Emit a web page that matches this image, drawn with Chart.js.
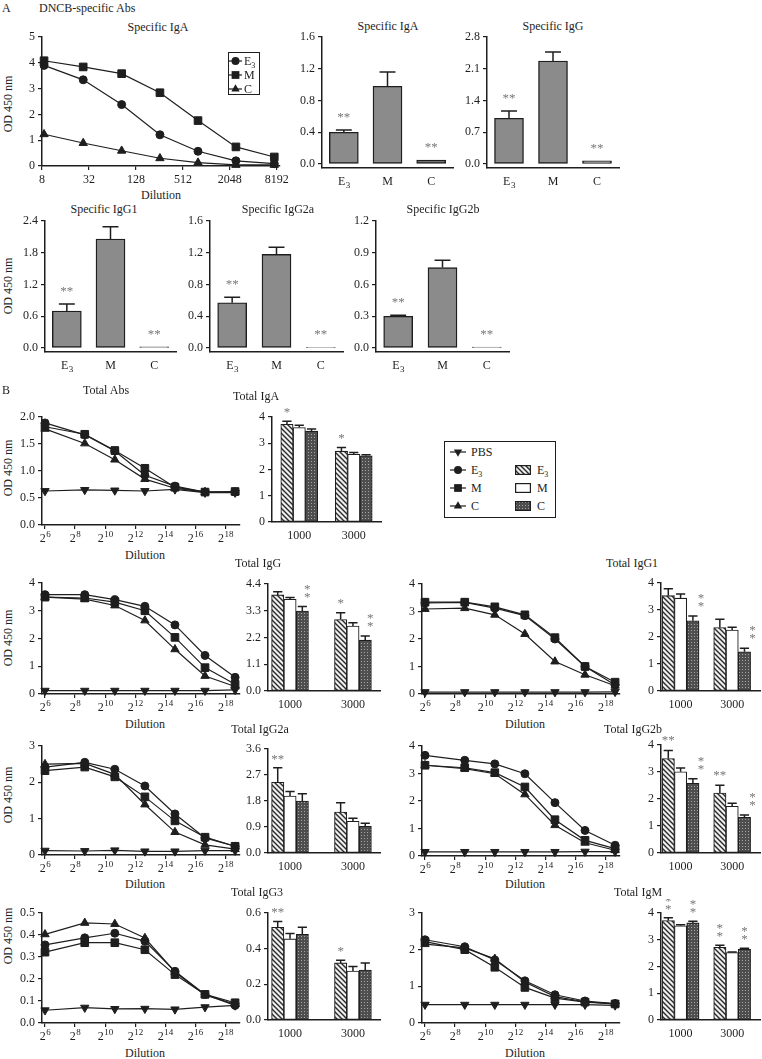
<!DOCTYPE html>
<html><head><meta charset="utf-8">
<script src="https://cdn.jsdelivr.net/npm/chart.js@4.4.1/dist/chart.umd.min.js"></script>
<style>
html,body{margin:0;padding:0;background:#fff;}
#fig{position:relative;width:762px;height:1059px;overflow:hidden;background:#fff;font-family:'Liberation Serif','Times New Roman',Times,serif;color:#1e1e1e;}
#fig canvas{position:absolute;}
.t{position:absolute;font-size:12px;line-height:14px;white-space:nowrap;transform:translate(-50%,-50%);}
.tl{position:absolute;font-size:12px;line-height:14px;white-space:nowrap;transform:translate(0,-50%);}
.yl{position:absolute;font-size:12px;line-height:14px;white-space:nowrap;transform:translate(-50%,-50%) rotate(-90deg);}
.leg{position:absolute;border:1px solid #1e1e1e;box-sizing:border-box;}
sub{font-size:8px;vertical-align:-3px;line-height:0;}
</style></head><body><div id="fig"></div>
<script>
// ================= DATA =================
// ---- A: DNCB-specific antibodies ----
const specDilutions = [8.5, 27, 84, 260, 800, 2450, 7600];
const specDilutionTicks = [8, 32, 128, 512, 2048, 8192];
const specDilutionLabels = ['8', '32', '128', '512', '2048', '8192'];
const specIgA_E3 = [3.90, 3.34, 2.38, 1.21, 0.57, 0.20, 0.09];
const specIgA_M  = [4.08, 3.84, 3.58, 2.84, 1.76, 0.74, 0.35];
const specIgA_C  = [1.23, 0.89, 0.59, 0.30, 0.13, 0.04, 0.04];
const specLineTicks = ['0', '1', '2', '3', '4', '5'];

const groupsA = ['E_3', 'M', 'C'];
const sigA = ['**', '', '**'];
const specIgA_bar = [0.40, 0.98, 0.05];   const specIgA_err = [0.03, 0.18, 0];
const specIgG_bar = [1.01, 2.27, 0.07];   const specIgG_err = [0.16, 0.20, 0];
const specIgG1_bar = [0.70, 2.06, 0.02];  const specIgG1_err = [0.13, 0.23, 0];
const specIgG2a_bar = [0.57, 1.18, 0.01]; const specIgG2a_err = [0.07, 0.09, 0];
const specIgG2b_bar = [0.30, 0.76, 0.01]; const specIgG2b_err = [0.01, 0.07, 0];
const ticksIgA_A = ['0.0', '0.4', '0.8', '1.2', '1.6'];
const ticksIgG_A = ['0.0', '0.7', '1.4', '2.1', '2.8'];
const ticksIgG1_A = ['0.0', '0.6', '1.2', '1.8', '2.4'];
const ticksIgG2a_A = ['0.0', '0.4', '0.8', '1.2', '1.6'];
const ticksIgG2b_A = ['0.0', '0.3', '0.6', '0.9', '1.2'];

// ---- B: total antibodies ----
const totDilutions = [64, 400, 1600, 6400, 25600, 102400, 409600];
const totDilutionTicks = [64, 256, 1024, 4096, 16384, 65536, 262144];
const totDilutionLabels = ['2^6', '2^8', '2^10', '2^12', '2^14', '2^16', '2^18'];
const groupsB = ['1000', '3000'];
const groupX = [1, 2];

const totAbs_PBS = [0.63, 0.65, 0.64, 0.63, 0.66, 0.60, 0.60];
const totAbs_E3  = [1.89, 1.67, 1.37, 0.92, 0.72, 0.61, 0.61];
const totAbs_M   = [1.82, 1.68, 1.38, 1.05, 0.70, 0.61, 0.62];
const totAbs_C   = [1.78, 1.51, 1.21, 0.85, 0.68, 0.61, 0.61];
const ticksTotAbs = ['0.0', '0.5', '1.0', '1.5', '2.0'];

const totIgA_E3 = [3.72, 2.70]; const totIgA_E3err = [0.12, 0.14]; const totIgA_E3sig = ['*', '*'];
const totIgA_M  = [3.60, 2.58]; const totIgA_Merr  = [0.09, 0.07];
const totIgA_C  = [3.46, 2.52]; const totIgA_Cerr  = [0.08, 0.04];
const ticksTotIgA = ['0', '1', '2', '3', '4'];

const totIgG_PBS = [0.12, 0.12, 0.12, 0.12, 0.12, 0.12, 0.15];
const totIgG_E3l = [3.58, 3.58, 3.40, 3.16, 2.49, 1.39, 0.60];
const totIgG_Ml  = [3.49, 3.46, 3.31, 3.00, 2.04, 0.95, 0.35];
const totIgG_Cl  = [3.49, 3.42, 3.19, 2.65, 1.61, 0.65, 0.27];
const ticksIgGLine = ['0', '1', '2', '3', '4'];
const totIgG_E3 = [3.95, 2.94]; const totIgG_E3err = [0.13, 0.28]; const totIgG_E3sig = ['', '*'];
const totIgG_M  = [3.77, 2.67]; const totIgG_Merr  = [0.08, 0.14];
const totIgG_C  = [3.29, 2.09]; const totIgG_Cerr  = [0.18, 0.17]; const totIgG_Csig = [':', ':'];
const ticksIgGBar = ['0.0', '1.1', '2.2', '3.3', '4.4'];

const totIgG1_PBS = [0.07, 0.07, 0.07, 0.07, 0.07, 0.07, 0.08];
const totIgG1_E3l = [3.31, 3.33, 3.12, 2.85, 2.00, 1.00, 0.33];
const totIgG1_Ml  = [3.34, 3.34, 3.17, 2.88, 2.05, 1.00, 0.43];
const totIgG1_Cl  = [3.09, 3.12, 2.88, 2.18, 1.18, 0.70, 0.30];
const ticksIgG1Line = ['0', '1', '2', '3', '4'];
const totIgG1_E3 = [3.53, 2.35]; const totIgG1_E3err = [0.26, 0.31];
const totIgG1_M  = [3.44, 2.26]; const totIgG1_Merr  = [0.15, 0.10];
const totIgG1_C  = [2.60, 1.45]; const totIgG1_Cerr  = [0.18, 0.13]; const totIgG1_Csig = [':', ':'];
const ticksIgG1Bar = ['0', '1', '2', '3', '4'];

const totIgG2a_PBS = [0.12, 0.11, 0.13, 0.10, 0.10, 0.12, 0.12];
const totIgG2a_E3l = [2.42, 2.55, 2.36, 1.90, 1.13, 0.47, 0.24];
const totIgG2a_Ml  = [2.32, 2.42, 2.15, 1.60, 0.94, 0.49, 0.24];
const totIgG2a_Cl  = [2.50, 2.52, 2.22, 1.39, 0.63, 0.28, 0.16];
const ticksIgG2aLine = ['0', '1', '2', '3'];
const totIgG2a_E3 = [2.45, 1.42]; const totIgG2a_E3err = [0.50, 0.32]; const totIgG2a_E3sig = ['**', ''];
const totIgG2a_M  = [1.97, 1.10]; const totIgG2a_Merr  = [0.16, 0.10];
const totIgG2a_C  = [1.80, 0.92]; const totIgG2a_Cerr  = [0.25, 0.11];
const ticksIgG2aBar = ['0.0', '0.9', '1.8', '2.7', '3.6'];

const totIgG2b_PBS = [0.15, 0.15, 0.15, 0.15, 0.15, 0.16, 0.16];
const totIgG2b_E3l = [3.66, 3.48, 3.35, 2.99, 1.94, 0.93, 0.39];
const totIgG2b_Ml  = [3.30, 3.21, 3.03, 2.51, 1.32, 0.57, 0.27];
const totIgG2b_Cl  = [3.30, 3.18, 2.99, 2.24, 1.12, 0.48, 0.21];
const ticksIgG2bLine = ['0', '1', '2', '3', '4'];
const totIgG2b_E3 = [3.50, 2.22]; const totIgG2b_E3err = [0.30, 0.29]; const totIgG2b_E3sig = ['**', '**'];
const totIgG2b_M  = [3.01, 1.73]; const totIgG2b_Merr  = [0.14, 0.11];
const totIgG2b_C  = [2.58, 1.32]; const totIgG2b_Cerr  = [0.17, 0.09]; const totIgG2b_Csig = [':', ':'];
const ticksIgG2bBar = ['0', '1', '2', '3', '4'];

const totIgG3_PBS = [0.058, 0.070, 0.064, 0.065, 0.062, 0.072, 0.080];
const totIgG3_E3l = [0.355, 0.387, 0.408, 0.372, 0.235, 0.130, 0.080];
const totIgG3_Ml  = [0.322, 0.365, 0.365, 0.333, 0.220, 0.130, 0.092];
const totIgG3_Cl  = [0.403, 0.455, 0.450, 0.386, 0.232, 0.128, 0.085];
const ticksIgG3Line = ['0.0', '0.1', '0.2', '0.3', '0.4', '0.5'];
const totIgG3_E3 = [0.52, 0.32];  const totIgG3_E3err = [0.033, 0.015]; const totIgG3_E3sig = ['**', '*'];
const totIgG3_M  = [0.455, 0.275]; const totIgG3_Merr = [0.030, 0.025];
const totIgG3_C  = [0.48, 0.28];  const totIgG3_Cerr  = [0.040, 0.040];
const ticksIgG3Bar = ['0.0', '0.2', '0.4', '0.6'];

const totIgM_PBS = [0.50, 0.50, 0.50, 0.50, 0.50, 0.50, 0.48];
const totIgM_E3l = [2.27, 2.08, 1.72, 1.15, 0.77, 0.60, 0.53];
const totIgM_Ml  = [2.22, 2.00, 1.52, 0.97, 0.68, 0.57, 0.52];
const totIgM_Cl  = [2.15, 2.05, 1.75, 1.12, 0.72, 0.58, 0.52];
const ticksIgMLine = ['0', '1', '2', '3'];
const totIgM_E3 = [3.72, 2.72]; const totIgM_E3err = [0.10, 0.07]; const totIgM_E3sig = [':', ':'];
const totIgM_M  = [3.52, 2.52]; const totIgM_Merr  = [0.04, 0.02];
const totIgM_C  = [3.63, 2.65]; const totIgM_Cerr  = [0.06, 0.03]; const totIgM_Csig = [':', ':'];
const ticksIgMBar = ['0', '1', '2', '3', '4'];

// ================= RENDERING =================
const FONT = "'Liberation Serif','Times New Roman',Times,serif";
const INK = '#1e1e1e';
Chart.defaults.font.family = FONT;
Chart.defaults.font.size = 12;
Chart.defaults.color = INK;
const fig = document.getElementById('fig');
const PAD = {l: 46, r: 16, t: 14, b: 32};

function addText(cls, html, x, y) {
  const d = document.createElement('div');
  d.className = cls; d.style.left = x + 'px'; d.style.top = y + 'px'; d.innerHTML = html;
  fig.appendChild(d); return d;
}
function mount(p) {
  const c = document.createElement('canvas');
  const w = p.r - p.l + PAD.l + PAD.r, h = p.b - p.t + PAD.t + PAD.b;
  c.width = w; c.height = h;
  c.style.left = (p.l - PAD.l) + 'px'; c.style.top = (p.t - PAD.t) + 'px';
  c.style.width = w + 'px'; c.style.height = h + 'px';
  fig.appendChild(c); return c.getContext('2d');
}
function drawRich(ctx, str, cx, base, size) {
  const m = str.match(/^(.*?)([\^_])(.+)$/);
  ctx.textBaseline = 'alphabetic';
  if (!m) { ctx.font = size + 'px ' + FONT; ctx.textAlign = 'center'; ctx.fillText(str, cx, base); return; }
  const small = Math.round(size * 0.72);
  ctx.font = size + 'px ' + FONT; const w1 = ctx.measureText(m[1]).width;
  ctx.font = small + 'px ' + FONT; const w2 = ctx.measureText(m[3]).width;
  const x = cx - (w1 + w2) / 2;
  ctx.textAlign = 'left';
  ctx.font = size + 'px ' + FONT; ctx.fillText(m[1], x, base);
  ctx.font = small + 'px ' + FONT;
  ctx.fillText(m[3], x + w1 + 0.5, m[2] === '^' ? base - size * 0.42 : base + size * 0.28);
}
const xLabelPlugin = {
  id: 'xlab',
  afterDraw(chart, args, o) {
    if (!o || !o.labels) return;
    const s = chart.scales.x, ctx = chart.ctx;
    ctx.save(); ctx.fillStyle = INK;
    s.ticks.forEach((t, i) => drawRich(ctx, o.labels[i], s.getPixelForTick(i), s.top + o.dy, 12));
    ctx.restore();
  }
};
const errPlugin = {
  id: 'errs',
  afterDatasetsDraw(chart, args, o) {
    if (chart.config.type !== 'bar') return;
    const ctx = chart.ctx, ys = chart.scales.y;
    chart.data.datasets.forEach((ds, i) => {
      const meta = chart.getDatasetMeta(i);
      meta.data.forEach((el, j) => {
        const v = meta.controller.getParsed(j).y;
        const e = ds.errors ? ds.errors[j] : 0;
        const yTop = ys.getPixelForValue(v + e);
        if (e > 0) {
          const w = el.width * (o.cap || 0.6);
          ctx.save(); ctx.strokeStyle = INK; ctx.lineWidth = 1.5; ctx.beginPath();
          ctx.moveTo(el.x, el.y); ctx.lineTo(el.x, yTop);
          ctx.moveTo(el.x - w / 2, yTop); ctx.lineTo(el.x + w / 2, yTop);
          ctx.stroke(); ctx.restore();
        }
        const s = ds.sig ? ds.sig[j] : '';
        if (s) {
          ctx.save(); ctx.fillStyle = '#777'; ctx.font = '13px ' + FONT;
          ctx.textAlign = 'center'; ctx.textBaseline = 'alphabetic';
          if (s === ':') {
            const x = el.x + (o.shift || 0);
            ctx.fillText('*', x, yTop - o.gap); ctx.fillText('*', x, yTop - o.gap - 8);
          } else ctx.fillText(s, el.x, yTop - o.gap);
          ctx.restore();
        }
      });
    });
  }
};
Chart.register(xLabelPlugin, errPlugin);

const gridOpts = () => ({display: true, drawOnChartArea: false, drawTicks: true, tickLength: 4, color: INK, lineWidth: 1.2});
const borderOpts = () => ({display: true, color: INK, width: 1.5});
function yScale(tickStr, min, max) {
  const vals = tickStr.map(parseFloat);
  return {
    type: 'linear', min: min, max: max,
    afterBuildTicks: s => { s.ticks = vals.map(v => ({value: v})); },
    afterFit: s => { s.width = PAD.l; },
    ticks: {callback: (v, i) => tickStr[i], padding: 3, autoSkip: false, color: INK, font: {family: FONT, size: 12}},
    grid: gridOpts(), border: borderOpts()
  };
}
const baseOpts = () => ({
  responsive: false, animation: false, devicePixelRatio: 1,
  layout: {padding: {top: PAD.t, right: PAD.r, left: 0, bottom: 0}},
  events: []
});

const STY = {
  E3:  {style: 'circle', r: 4, rot: 0},
  M:   {style: 'rect', r: 5.4, rot: 0},
  C:   {style: 'triangle', r: 4.8, rot: 0},
  PBS: {style: 'triangle', r: 4.8, rot: 180}
};
function lineChart(p) {
  const ctx = mount(p.box);
  const datasets = p.series.map(s => ({
    data: s.data.map((y, i) => ({x: p.x[i], y: y})),
    borderColor: INK, backgroundColor: INK, borderWidth: 1.2,
    pointStyle: STY[s.key].style, pointRotation: STY[s.key].rot, pointRadius: STY[s.key].r,
    pointBackgroundColor: INK, pointBorderColor: INK, pointBorderWidth: 1, clip: false, tension: 0
  }));
  const opts = baseOpts();
  opts.plugins = {legend: {display: false}, tooltip: {enabled: false}, xlab: {labels: p.xLabels, dy: 17}};
  opts.scales = {
    x: {type: 'logarithmic', min: p.xmin, max: p.xmax, offset: false,
        afterBuildTicks: s => { s.ticks = p.xTicks.map(v => ({value: v})); },
        afterFit: s => { s.height = PAD.b; },
        ticks: {callback: () => '', autoSkip: false}, grid: gridOpts(), border: borderOpts()},
    y: yScale(p.yTicks, p.ymin, p.ymax)
  };
  new Chart(ctx, {type: 'line', data: {datasets: datasets}, options: opts});
}
function barA(p) {
  const ctx = mount(p.box);
  const opts = baseOpts();
  opts.plugins = {legend: {display: false}, tooltip: {enabled: false}, xlab: {labels: groupsA, dy: 17}, errs: {cap: 0.55, gap: 9}};
  opts.scales = {
    x: {type: 'category', offset: true, afterFit: s => { s.height = PAD.b; },
        ticks: {callback: () => ''}, grid: {display: false}, border: borderOpts()},
    y: yScale(p.yTicks, p.ymin, p.ymax)
  };
  new Chart(ctx, {type: 'bar', data: {labels: groupsA, datasets: [{
    data: p.values, errors: p.errors, sig: sigA, backgroundColor: '#8b8b8b',
    borderColor: INK, borderWidth: 1.4, borderSkipped: false, barThickness: 29
  }]}, options: opts});
}
function patHatch(ctx) {
  const c = document.createElement('canvas'); c.width = c.height = 5;
  const x = c.getContext('2d'); x.fillStyle = '#efefef'; x.fillRect(0, 0, 5, 5);
  x.strokeStyle = '#2a2a2a'; x.lineWidth = 1.4; x.beginPath();
  x.moveTo(-1, -1); x.lineTo(6, 6); x.moveTo(-1, 4); x.lineTo(1, 6); x.moveTo(4, -1); x.lineTo(6, 1); x.stroke();
  return ctx.createPattern(c, 'repeat');
}
function patDots(ctx) {
  const c = document.createElement('canvas'); c.width = c.height = 3;
  const x = c.getContext('2d'); x.fillStyle = '#4e4e4e'; x.fillRect(0, 0, 3, 3);
  x.fillStyle = '#a6a6a6'; x.fillRect(1, 1, 1, 1);
  return ctx.createPattern(c, 'repeat');
}
function barB(p) {
  const ctx = mount(p.box);
  const fills = [patHatch(ctx), '#ffffff', patDots(ctx)];
  const sets = [[p.E3, p.E3err, p.E3sig], [p.M, p.Merr, null], [p.C, p.Cerr, p.Csig]].map((g, k) => ({
    data: g[0].map((y, i) => ({x: groupX[i], y: y})), errors: g[1], sig: g[2] || ['', ''],
    backgroundColor: fills[k], borderColor: INK, borderWidth: 1.1, borderSkipped: false, barThickness: 12.3
  }));
  const opts = baseOpts();
  opts.plugins = {legend: {display: false}, tooltip: {enabled: false}, xlab: {labels: groupsB, dy: 17},
                  errs: {cap: 0.75, gap: p.gap, shift: p.shift}};
  opts.scales = {
    x: {type: 'linear', min: p.xmin, max: p.xmax, offset: false,
        afterBuildTicks: s => { s.ticks = groupX.map(v => ({value: v})); },
        afterFit: s => { s.height = PAD.b; },
        ticks: {callback: () => ''}, grid: {display: false, offset: false}, border: borderOpts()},
    y: yScale(p.yTicks, p.ymin, p.ymax)
  };
  new Chart(ctx, {type: 'bar', data: {datasets: sets}, options: opts});
}
function drawMarker(x, style, cx, cy, r, rot) {
  x.beginPath();
  if (style === 'circle') x.arc(cx, cy, r, 0, Math.PI * 2);
  else if (style === 'rect') { const h = r * 0.72; x.rect(cx - h, cy - h, 2 * h, 2 * h); }
  else { const s = rot ? -1 : 1; x.moveTo(cx, cy - s * r); x.lineTo(cx + r * 0.87, cy + s * r * 0.5); x.lineTo(cx - r * 0.87, cy + s * r * 0.5); x.closePath(); }
  x.fill();
}
function legendMarker(left, cy, w, key) {
  const c = document.createElement('canvas'); c.width = w; c.height = 12;
  c.style.left = left + 'px'; c.style.top = (cy - 6) + 'px';
  const x = c.getContext('2d'); x.strokeStyle = INK; x.lineWidth = 1.2;
  x.beginPath(); x.moveTo(0, 6); x.lineTo(w, 6); x.stroke(); x.fillStyle = INK;
  drawMarker(x, STY[key].style, w / 2, 6, STY[key].r, STY[key].rot);
  fig.appendChild(c);
}
function legendPatch(left, cy, kind) {
  const c = document.createElement('canvas'); c.width = 16; c.height = 10;
  c.style.left = left + 'px'; c.style.top = (cy - 5) + 'px';
  const x = c.getContext('2d');
  x.fillStyle = kind === 'E3' ? patHatch(x) : kind === 'C' ? patDots(x) : '#fff';
  x.fillRect(0, 0, 16, 10); x.strokeStyle = INK; x.lineWidth = 1.2; x.strokeRect(0.6, 0.6, 14.8, 8.8);
  fig.appendChild(c);
}

// ---------- Panel A ----------
addText('tl', 'A', 2, 8);
addText('tl', 'DNCB-specific Abs', 39, 8);
addText('t', 'Specific IgA', 158, 27);
addText('t', 'Specific IgA', 388, 26);
addText('t', 'Specific IgG', 553, 26);
addText('yl', 'OD 450 nm', 8, 104);
addText('t', 'Dilution', 161, 195);
lineChart({box: {l: 42, r: 280, t: 37, b: 166}, x: specDilutions, xTicks: specDilutionTicks, xLabels: specDilutionLabels,
  xmin: 8, xmax: 9000, yTicks: specLineTicks, ymin: 0, ymax: 5,
  series: [{key: 'C', data: specIgA_C}, {key: 'E3', data: specIgA_E3}, {key: 'M', data: specIgA_M}]});
addText('leg', '', 228, 52).style.cssText += 'width:32px;height:43px;transform:none;';
legendMarker(229, 61, 13, 'E3'); addText('tl', 'E<sub>3</sub>', 244, 61);
legendMarker(229, 75, 13, 'M');  addText('tl', 'M', 244, 75);
legendMarker(229, 89, 13, 'C');  addText('tl', 'C', 244, 89);

barA({box: {l: 322, r: 453, t: 37, b: 168}, values: specIgA_bar, errors: specIgA_err, yTicks: ticksIgA_A, ymin: -0.05, ymax: 1.6});
barA({box: {l: 487, r: 619, t: 37, b: 168}, values: specIgG_bar, errors: specIgG_err, yTicks: ticksIgG_A, ymin: -0.0875, ymax: 2.8});

addText('t', 'Specific IgG1', 104, 209);
addText('t', 'Specific IgG2a', 278, 209);
addText('t', 'Specific IgG2b', 443, 209);
addText('yl', 'OD 450 nm', 8, 286);
barA({box: {l: 45, r: 176, t: 221, b: 352}, values: specIgG1_bar, errors: specIgG1_err, yTicks: ticksIgG1_A, ymin: -0.0756, ymax: 2.4});
barA({box: {l: 210, r: 343, t: 221, b: 352}, values: specIgG2a_bar, errors: specIgG2a_err, yTicks: ticksIgG2a_A, ymin: -0.05, ymax: 1.6});
barA({box: {l: 376, r: 509, t: 221, b: 352}, values: specIgG2b_bar, errors: specIgG2b_err, yTicks: ticksIgG2b_A, ymin: -0.0375, ymax: 1.2});

// ---------- Panel B ----------
const XMIN = Math.pow(2, 5.8), XMAX = Math.pow(2, 18.97);
function totLine(box, d, yTicks, ymax) {
  lineChart({box: box, x: totDilutions, xTicks: totDilutionTicks, xLabels: totDilutionLabels, xmin: XMIN, xmax: XMAX,
    yTicks: yTicks, ymin: 0, ymax: ymax,
    series: [{key: 'PBS', data: d[0]}, {key: 'C', data: d[3]}, {key: 'E3', data: d[1]}, {key: 'M', data: d[2]}]});
}
addText('tl', 'B', 2, 390);
addText('t', 'Total Abs', 106, 390);
addText('t', 'Total IgA', 256, 396);
addText('yl', 'OD 450 nm', 8, 468);
addText('t', 'Dilution', 145, 555);
totLine({l: 42, r: 240, t: 417, b: 525}, [totAbs_PBS, totAbs_E3, totAbs_M, totAbs_C], ticksTotAbs, 2);
barB({box: {l: 272, r: 381, t: 417, b: 522}, xmin: 0.5, xmax: 2.5, yTicks: ticksTotIgA, ymin: 0, ymax: 4, gap: 5, shift: 0,
  E3: totIgA_E3, E3err: totIgA_E3err, E3sig: totIgA_E3sig, M: totIgA_M, Merr: totIgA_Merr, C: totIgA_C, Cerr: totIgA_Cerr});

// legend B
addText('leg', '', 444, 441).style.cssText += 'width:112px;height:77px;transform:none;';
legendMarker(450, 452, 16, 'PBS'); addText('tl', 'PBS', 471, 452);
legendMarker(450, 470, 16, 'E3');  addText('tl', 'E<sub>3</sub>', 471, 470);
legendMarker(450, 488, 16, 'M');   addText('tl', 'M', 471, 488);
legendMarker(450, 506, 16, 'C');   addText('tl', 'C', 471, 506);
legendPatch(515, 470, 'E3'); addText('tl', 'E<sub>3</sub>', 537, 470);
legendPatch(515, 488, 'M');  addText('tl', 'M', 537, 488);
legendPatch(515, 506, 'C');  addText('tl', 'C', 537, 506);

// row 2
addText('t', 'Total IgG', 258, 563);
addText('t', 'Total IgG1', 632, 563);
addText('yl', 'OD 450 nm', 8, 638);
addText('t', 'Dilution', 145, 724);
addText('t', 'Dilution', 525, 724);
totLine({l: 42, r: 240, t: 583, b: 694}, [totIgG_PBS, totIgG_E3l, totIgG_Ml, totIgG_Cl], ticksIgGLine, 4);
barB({box: {l: 268, r: 380, t: 584, b: 691}, xmin: 0.65, xmax: 2.43, yTicks: ticksIgGBar, ymin: 0, ymax: 4.4, gap: 6, shift: 5,
  E3: totIgG_E3, E3err: totIgG_E3err, E3sig: totIgG_E3sig, M: totIgG_M, Merr: totIgG_Merr, C: totIgG_C, Cerr: totIgG_Cerr, Csig: totIgG_Csig});
totLine({l: 422, r: 620, t: 584, b: 694}, [totIgG1_PBS, totIgG1_E3l, totIgG1_Ml, totIgG1_Cl], ticksIgG1Line, 4);
barB({box: {l: 661, r: 760, t: 583, b: 691}, xmin: 0.62, xmax: 2.54, yTicks: ticksIgG1Bar, ymin: 0, ymax: 4, gap: 6, shift: 8,
  E3: totIgG1_E3, E3err: totIgG1_E3err, M: totIgG1_M, Merr: totIgG1_Merr, C: totIgG1_C, Cerr: totIgG1_Cerr, Csig: totIgG1_Csig});

// row 3
addText('t', 'Total IgG2a', 260, 729);
addText('t', 'Total IgG2b', 633, 729);
addText('yl', 'OD 450 nm', 8, 795);
addText('t', 'Dilution', 145, 884);
addText('t', 'Dilution', 525, 884);
totLine({l: 42, r: 240, t: 746, b: 855}, [totIgG2a_PBS, totIgG2a_E3l, totIgG2a_Ml, totIgG2a_Cl], ticksIgG2aLine, 3);
barB({box: {l: 268, r: 380, t: 749, b: 853}, xmin: 0.65, xmax: 2.43, yTicks: ticksIgG2aBar, ymin: 0, ymax: 3.6, gap: 5, shift: 0,
  E3: totIgG2a_E3, E3err: totIgG2a_E3err, E3sig: totIgG2a_E3sig, M: totIgG2a_M, Merr: totIgG2a_Merr, C: totIgG2a_C, Cerr: totIgG2a_Cerr});
totLine({l: 422, r: 620, t: 746, b: 856}, [totIgG2b_PBS, totIgG2b_E3l, totIgG2b_Ml, totIgG2b_Cl], ticksIgG2bLine, 4);
barB({box: {l: 661, r: 760, t: 745, b: 853}, xmin: 0.62, xmax: 2.54, yTicks: ticksIgG2bBar, ymin: 0, ymax: 4, gap: 6, shift: 8,
  E3: totIgG2b_E3, E3err: totIgG2b_E3err, E3sig: totIgG2b_E3sig, M: totIgG2b_M, Merr: totIgG2b_Merr, C: totIgG2b_C, Cerr: totIgG2b_Cerr, Csig: totIgG2b_Csig});

// row 4
addText('t', 'Total IgG3', 257, 892);
addText('t', 'Total IgM', 638, 892);
addText('yl', 'OD 450 nm', 8, 936);
addText('t', 'Dilution', 145, 1053);
addText('t', 'Dilution', 525, 1053);
totLine({l: 42, r: 240, t: 913, b: 1023}, [totIgG3_PBS, totIgG3_E3l, totIgG3_Ml, totIgG3_Cl], ticksIgG3Line, 0.5);
barB({box: {l: 268, r: 380, t: 913, b: 1020}, xmin: 0.65, xmax: 2.43, yTicks: ticksIgG3Bar, ymin: 0, ymax: 0.6, gap: 5, shift: 0,
  E3: totIgG3_E3, E3err: totIgG3_E3err, E3sig: totIgG3_E3sig, M: totIgG3_M, Merr: totIgG3_Merr, C: totIgG3_C, Cerr: totIgG3_Cerr});
totLine({l: 422, r: 620, t: 913, b: 1023}, [totIgM_PBS, totIgM_E3l, totIgM_Ml, totIgM_Cl], ticksIgMLine, 3);
barB({box: {l: 661, r: 760, t: 913, b: 1020}, xmin: 0.62, xmax: 2.54, yTicks: ticksIgMBar, ymin: 0, ymax: 4, gap: 5, shift: 0,
  E3: totIgM_E3, E3err: totIgM_E3err, E3sig: totIgM_E3sig, M: totIgM_M, Merr: totIgM_Merr, C: totIgM_C, Cerr: totIgM_Cerr, Csig: totIgM_Csig});
</script>
</body></html>
